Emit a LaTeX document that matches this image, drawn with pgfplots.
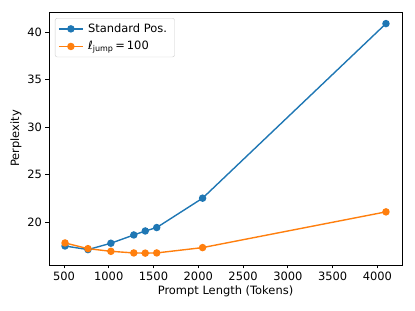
\documentclass[border=0pt]{standalone}
\usepackage{pgfplots}
\pgfplotsset{compat=1.18}
\usepackage{fontspec}
\setmainfont{DejaVu Sans}
\definecolor{mblue}{HTML}{1F77B4}
\definecolor{morange}{HTML}{FF7F0E}
\begin{document}
\begin{tikzpicture}
\begin{axis}[
  scale only axis,
  width=353bp, height=253bp,
  xmin=333, xmax=4275, ymin=15.5, ymax=42.12,
  xtick={500,1000,...,4000},
  ytick={20,25,30,35,40},
  tick align=outside,
  major tick length=3.5bp,
  tick style={black, line width=0.7pt},
  xtick pos=bottom, ytick pos=left,
  axis line style={black, line width=0.7pt},
  /pgf/number format/assume math mode=true,
  /pgf/number format/1000 sep={},
  tick label style={font=\fontsize{11.5}{13}\selectfont},
  label style={font=\fontsize{11.5}{13}\selectfont},
  xlabel={Prompt Length (Tokens)},
  ylabel={Perplexity},
  xlabel style={yshift=2bp},
  ylabel style={yshift=-1bp},
  legend style={font=\fontsize{11.5}{13}\selectfont, draw=black!20, rounded corners=2bp, at={(0.017,0.976)}, anchor=north west, inner sep=3bp, row sep=2.5bp, nodes={inner ysep=2.5bp, inner xsep=4.5bp}},
  legend cell align=left,
  legend image code/.code={\draw[#1] (0bp,0bp) -- (24bp,0bp); \draw[#1,only marks] plot coordinates {(12bp,0bp)};},
]
\addplot[color=mblue, line width=1.4bp, mark=*, mark size=3bp] coordinates {
(512,17.5) (768,17.12) (1024,17.79) (1280,18.66) (1408,19.08) (1536,19.44) (2048,22.53) (4096,40.9)};
\addlegendentry{Standard Pos.}
\addplot[color=morange, line width=1.4bp, mark=*, mark size=3bp] coordinates {
(512,17.82) (768,17.22) (1024,16.94) (1280,16.77) (1408,16.75) (1536,16.77) (2048,17.33) (4096,21.09)};
\addlegendentry{{\itshape ℓ}\textsubscript{jump}\,=\,100}
\coordinate (sw) at (rel axis cs:0,0);
\coordinate (ne) at (rel axis cs:1,1);
\end{axis}
\path ([xshift=-49bp,yshift=-46bp]sw) rectangle ([xshift=13bp,yshift=12bp]ne);
\end{tikzpicture}
\end{document}
